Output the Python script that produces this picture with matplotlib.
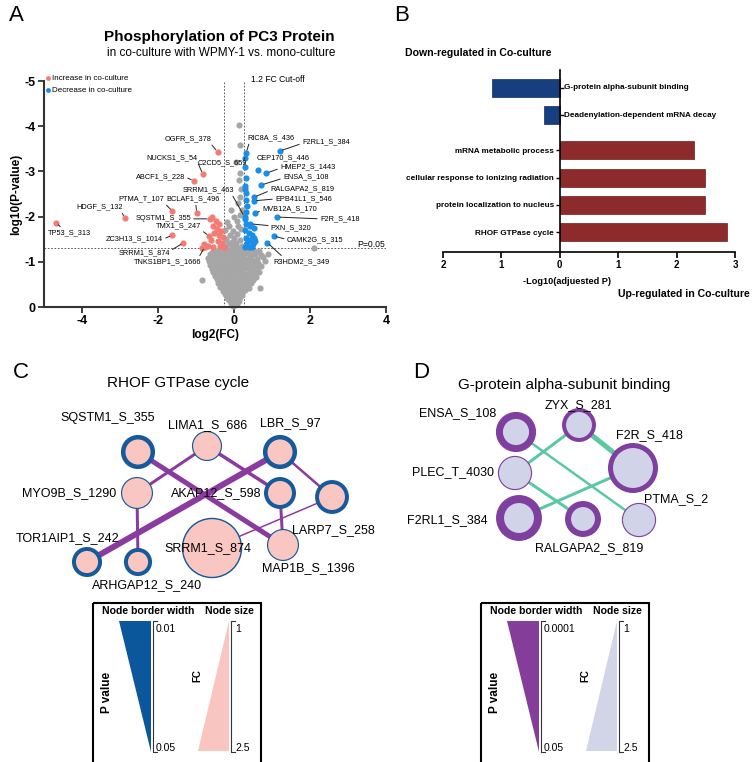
import matplotlib
matplotlib.use('Agg')
import matplotlib.pyplot as plt
from matplotlib.patches import Circle, Polygon, Rectangle
from matplotlib.lines import Line2D
import numpy as np

plt.rcParams['font.family'] = ['Liberation Sans', 'DejaVu Sans']
plt.rcParams['axes.unicode_minus'] = False

W, H = 752, 762

# ---------------- Panel A: volcano (log2 FC, log10 P) ----------------
gray_pts = [
    (-0.03, -0.03), (0.02, -0.05), (-0.08, -0.09), (0.01, -0.1), (0.07, -0.07),
    (-0.13, -0.15), (-0.05, -0.13), (0.04, -0.16), (0.12, -0.13),
    (-0.19, -0.21), (-0.1, -0.19), (0.0, -0.22), (0.09, -0.2), (0.17, -0.23),
    (-0.25, -0.28), (-0.15, -0.26), (-0.06, -0.29), (0.03, -0.27), (0.12, -0.3), (0.22, -0.26),
    (-0.3, -0.36), (-0.21, -0.33), (-0.1, -0.37), (0.0, -0.34), (0.1, -0.36), (0.2, -0.33), (0.29, -0.37),
    (-0.36, -0.44), (-0.25, -0.42), (-0.14, -0.45), (-0.04, -0.41), (0.06, -0.44), (0.16, -0.42),
    (0.27, -0.46), (0.4, -0.43), (0.69, -0.42),
    (-0.41, -0.52), (-0.3, -0.5), (-0.19, -0.54), (-0.09, -0.51), (0.01, -0.53), (0.11, -0.5),
    (0.21, -0.55), (0.32, -0.51), (0.46, -0.54),
    (-0.85, -0.6), (-0.45, -0.61), (-0.34, -0.58), (-0.24, -0.62), (-0.13, -0.59), (-0.03, -0.61),
    (0.07, -0.58), (0.17, -0.63), (0.27, -0.6), (0.38, -0.62), (0.5, -0.59),
    (-0.5, -0.69), (-0.39, -0.67), (-0.28, -0.7), (-0.18, -0.66), (-0.08, -0.69), (0.02, -0.71),
    (0.12, -0.67), (0.22, -0.7), (0.33, -0.68), (0.45, -0.71), (0.58, -0.67),
    (-0.55, -0.77), (-0.43, -0.75), (-0.32, -0.78), (-0.22, -0.74), (-0.12, -0.77), (-0.02, -0.75),
    (0.08, -0.79), (0.18, -0.76), (0.28, -0.74), (0.4, -0.78), (0.52, -0.75), (0.66, -0.77),
    (-0.58, -0.85), (-0.47, -0.83), (-0.36, -0.86), (-0.26, -0.82), (-0.16, -0.85), (-0.06, -0.87),
    (0.04, -0.83), (0.14, -0.86), (0.24, -0.84), (0.35, -0.87), (0.47, -0.83), (0.6, -0.85),
    (-0.62, -0.93), (-0.5, -0.91), (-0.4, -0.94), (-0.3, -0.9), (-0.2, -0.93), (-0.1, -0.95),
    (0.0, -0.91), (0.1, -0.94), (0.2, -0.92), (0.3, -0.95), (0.42, -0.91), (0.55, -0.93), (0.72, -0.9),
    (-0.65, -1.01), (-0.54, -0.99), (-0.43, -1.02), (-0.33, -0.98), (-0.23, -1.01), (-0.13, -1.03),
    (-0.03, -0.99), (0.07, -1.02), (0.17, -1.0), (0.27, -1.03), (0.38, -0.99), (0.5, -1.01),
    (0.64, -0.98), (0.82, -1.02),
    (-0.68, -1.09), (-0.57, -1.07), (-0.46, -1.1), (-0.36, -1.06), (-0.26, -1.09), (-0.16, -1.11),
    (-0.06, -1.07), (0.04, -1.1), (0.14, -1.08), (0.24, -1.11), (0.35, -1.07), (0.46, -1.09),
    (0.6, -1.06), (0.75, -1.1),
    (-0.62, -1.17), (-0.5, -1.15), (-0.4, -1.18), (-0.3, -1.14), (-0.2, -1.17), (-0.1, -1.19),
    (0.0, -1.15), (0.1, -1.18), (0.2, -1.16), (0.31, -1.19), (0.43, -1.15), (0.56, -1.17),
    (0.7, -1.14), (0.9, -1.18),
    (-0.55, -1.25), (-0.44, -1.23), (-0.33, -1.26), (-0.22, -1.22), (-0.12, -1.25), (-0.02, -1.27),
    (0.08, -1.23), (0.18, -1.26), (0.28, -1.24), (0.4, -1.27), (0.52, -1.23), (0.66, -1.25),
    (-0.2, -1.33), (-0.05, -1.35), (0.08, -1.32), (0.2, -1.34), (2.1, -1.31),
    (-0.15, -1.42), (-0.05, -1.44), (0.05, -1.41),
    (-0.2, -1.5), (0.0, -1.52), (0.15, -1.49),
    (-0.1, -1.6), (0.08, -1.62),
    (-0.24, -1.7), (-0.03, -1.68), (0.18, -1.72),
    (-0.12, -1.8), (0.1, -1.79),
    (-0.18, -1.88), (0.08, -1.9),
    (0.0, -2.0), (0.16, -2.03),
    (-0.08, -2.15), (0.2, -2.14),
    (0.11, -2.3), (0.16, -2.43), (0.18, -2.6), (0.12, -2.8), (0.16, -2.96), (0.05, -3.2),
    (0.16, -3.58), (0.13, -4.03),
]

red_other = [
    (-0.59, -1.99), (-0.48, -1.90), (-0.40, -1.84), (-0.56, -1.79), (-0.45, -1.73), (-0.35, -1.68),
    (-0.53, -1.64), (-0.40, -1.59), (-0.29, -1.55), (-0.61, -1.48), (-0.43, -1.46), (-0.32, -1.42),
    (-0.80, -1.39), (-0.69, -1.35), (-0.37, -1.35), (-0.27, -1.33), (-0.56, -1.33), (-0.85, -1.31),
]

blue_other = [
    (0.32, -2.85), (0.29, -2.68), (0.32, -2.52), (0.32, -2.37), (0.35, -2.23), (0.32, -2.10),
    (0.29, -1.95), (0.32, -1.84), (0.43, -1.79), (0.53, -1.75), (0.29, -1.70), (0.40, -1.64),
    (0.48, -1.59), (0.53, -1.53), (0.32, -1.53), (0.43, -1.48), (0.56, -1.46), (0.51, -1.39),
    (0.35, -1.42), (0.29, -1.33), (0.40, -1.33), (0.48, -1.33), (0.30, -3.10), (0.28, -2.60),
]

red_names = ['OGFR_S_378', 'NUCKS1_S_54', 'ABCF1_S_228', 'PTMA_T_107', 'BCLAF1_S_496',
             'HDGF_S_132', 'SQSTM1_S_355', 'TMX1_S_247', 'TP53_S_313', 'ZC3H13_S_1014',
             'SRRM1_S_874', 'TNKS1BP1_S_1666']
red_fc = [-0.43, -0.82, -1.06, -1.62, -0.98, -2.87, -0.64, -0.66, -4.68, -1.62, -1.33, -0.77]
red_logp = [-3.43, -2.94, -2.79, -2.12, -2.08, -1.97, -1.95, -1.57, -1.86, -1.59, -1.42, -1.33]

blue_names = ['RIC8A_S_436', 'C2CD5_S_659', 'F2RL1_S_384', 'CEP170_S_446', 'HMEP2_S_1443',
              'ENSA_S_108', 'RALGAPA2_S_819', 'EPB41L1_S_546', 'SRRM1_S_463', 'MVB12A_S_170',
              'F2R_S_418', 'PXN_S_320', 'CAMK2G_S_315', 'R3HDM2_S_349']
blue_fc = [0.32, 0.29, 1.20, 0.64, 0.85, 0.72, 0.53, 0.53, 0.28, 0.56, 1.14, 0.43, 1.04, 0.88]
blue_logp = [-3.41, -3.30, -3.45, -3.03, -2.96, -2.70, -2.43, -2.35, -1.99, -2.08, -1.99, -1.84, -1.57, -1.42]

# label layout: text position (data), horizontal alignment, leader start (relpos)
label_layout = {
    'OGFR_S_378': (-0.58, -3.72, 'right', (0.95, 0)),
    'NUCKS1_S_54': (-0.97, -3.30, 'right', (1, 0)),
    'ABCF1_S_228': (-1.29, -2.88, 'right', (1, 0.5)),
    'PTMA_T_107': (-2.45, -2.39, 'center', (1, 0)),
    'BCLAF1_S_496': (-1.08, -2.39, 'center', (0.55, 0)),
    'HDGF_S_132': (-3.53, -2.21, 'center', (0.95, 0)),
    'SQSTM1_S_355': (-1.13, -1.95, 'right', (1, 0.5)),
    'TMX1_S_247': (-1.47, -1.79, 'center', (1, 0)),
    'TP53_S_313': (-4.32, -1.64, 'center', (0.35, 1)),
    'ZC3H13_S_1014': (-1.87, -1.50, 'right', (1, 0.5)),
    'SRRM1_S_874': (-2.37, -1.19, 'center', (1, 0.8)),
    'TNKS1BP1_S_1666': (-1.74, -1.00, 'center', (0.95, 1)),
    'RIC8A_S_436': (0.97, -3.74, 'center', (0.05, 0)),
    'C2CD5_S_659': (-0.32, -3.19, 'center', (0.95, 1)),
    'F2RL1_S_384': (1.79, -3.65, 'left', (0, 0.3)),
    'CEP170_S_446': (1.29, -3.30, 'center', None),
    'HMEP2_S_1443': (1.21, -3.10, 'left', (0, 0.3)),
    'ENSA_S_108': (1.29, -2.88, 'left', (0, 0.3)),
    'RALGAPA2_S_819': (0.95, -2.61, 'left', (0, 0.3)),
    'EPB41L1_S_546': (1.08, -2.39, 'left', (0, 0.5)),
    'SRRM1_S_463': (-0.68, -2.59, 'center', (0.95, 0)),
    'MVB12A_S_170': (0.74, -2.17, 'left', (0, 0.3)),
    'F2R_S_418': (2.26, -1.95, 'left', (0, 0.5)),
    'PXN_S_320': (0.97, -1.75, 'left', (0, 0.8)),
    'CAMK2G_S_315': (1.39, -1.48, 'left', (0, 0.6)),
    'R3HDM2_S_349': (1.03, -1.00, 'left', (0.2, 1)),
}

fc_cutoff = 1.2
p_cutoff = 0.05

# ---------------- Panel B: enrichment ----------------
terms_down = ['G-protein alpha-subunit binding', 'Deadenylation-dependent mRNA decay']
scores_down = [1.16, 0.27]
terms_up = ['mRNA metabolic process', 'cellular response to ionizing radiation',
            'protein localization to nucleus', 'RHOF GTPase cycle']
scores_up = [2.30, 2.49, 2.49, 2.86]

# ---------------- Panel C / D: networks ----------------
c_nodes = ['SQSTM1_S_355', 'LIMA1_S_686', 'LBR_S_97', 'MYO9B_S_1290', 'AKAP12_S_598',
           'LARP7_S_258', 'SRRM1_S_874', 'MAP1B_S_1396', 'TOR1AIP1_S_242', 'ARHGAP12_S_240']
c_fc = [1.55, 1.53, 1.55, 1.59, 1.50, 1.56, 2.47, 1.59, 1.44, 1.38]
c_p = [0.010, 0.048, 0.010, 0.048, 0.016, 0.016, 0.045, 0.048, 0.016, 0.016]
c_edges = [('SQSTM1_S_355', 'MAP1B_S_1396'), ('LIMA1_S_686', 'MYO9B_S_1290'),
           ('LIMA1_S_686', 'AKAP12_S_598'), ('LBR_S_97', 'TOR1AIP1_S_242'),
           ('LBR_S_97', 'LARP7_S_258'), ('MYO9B_S_1290', 'ARHGAP12_S_240'),
           ('AKAP12_S_598', 'MAP1B_S_1396'), ('LARP7_S_258', 'SRRM1_S_874')]
c_edge_w = [5, 3, 3.5, 6, 2.5, 3, 3, 1.5]

d_nodes = ['ENSA_S_108', 'ZYX_S_281', 'F2R_S_418', 'PLEC_T_4030', 'F2RL1_S_384',
           'RALGAPA2_S_819', 'PTMA_S_2']
d_fc = [1.66, 1.56, 2.03, 1.66, 1.81, 1.56, 1.66]
d_p = [0.00047, 0.0049, 0.0022, 0.045, 0.00022, 0.001, 0.045]
d_edges = [('ENSA_S_108', 'PTMA_S_2'), ('ZYX_S_281', 'PLEC_T_4030'), ('ZYX_S_281', 'F2R_S_418'),
           ('PLEC_T_4030', 'RALGAPA2_S_819'), ('F2R_S_418', 'F2RL1_S_384')]
d_edge_w = [2.5, 3, 5, 3, 3]

# layouts (figure pixels)
c_pos = {'SQSTM1_S_355': (138, 452), 'LIMA1_S_686': (207, 446), 'LBR_S_97': (280, 452),
         'MYO9B_S_1290': (137, 493), 'AKAP12_S_598': (280, 493), 'LARP7_S_258': (332, 497),
         'SRRM1_S_874': (212, 548), 'MAP1B_S_1396': (283, 545), 'TOR1AIP1_S_242': (87, 562),
         'ARHGAP12_S_240': (138, 562)}
c_lab = {'SQSTM1_S_355': (108, 418), 'LIMA1_S_686': (208, 425), 'LBR_S_97': (290, 423),
         'MYO9B_S_1290': (69, 493), 'AKAP12_S_598': (216, 493), 'LARP7_S_258': (333, 530),
         'SRRM1_S_874': (208, 548), 'MAP1B_S_1396': (308, 568), 'TOR1AIP1_S_242': (68, 538),
         'ARHGAP12_S_240': (147, 585)}
d_pos = {'ENSA_S_108': (516, 432), 'ZYX_S_281': (579, 425), 'F2R_S_418': (633, 468),
         'PLEC_T_4030': (515, 473), 'F2RL1_S_384': (519, 518), 'RALGAPA2_S_819': (583, 519),
         'PTMA_S_2': (639, 520)}
d_lab = {'ENSA_S_108': (458, 413), 'ZYX_S_281': (578, 405), 'F2R_S_418': (649, 435),
         'PLEC_T_4030': (453, 472), 'F2RL1_S_384': (447, 520), 'RALGAPA2_S_819': (589, 548),
         'PTMA_S_2': (676, 499)}

GRAY = '#a6a6a6'
RED = '#f47b73'
BLUE = '#1b8fe8'
PT = 0.72  # points per pixel at dpi 100

fig = plt.figure(figsize=(W / 100, H / 100), dpi=100)
fig.patch.set_facecolor('white')

# overlay axes in pixel units for networks, legends and panel letters
axn = fig.add_axes([0, 0, 1, 1])
axn.set_xlim(0, W)
axn.set_ylim(H, 0)
axn.axis('off')

for letter, (lx, ly) in zip('ABCD', [(9, 21), (394, 21), (13, 378), (413, 378)]):
    axn.text(lx, ly, letter, fontsize=16, va='baseline', ha='left')

axn.text(219, 37, 'Phosphorylation of PC3 Protein', fontsize=11, fontweight='bold',
         ha='center', va='center')
axn.text(221, 53, 'in co-culture with WPMY-1 vs. mono-culture', fontsize=8.5,
         ha='center', va='center')

# ---- volcano ----
ax = fig.add_axes([44 / W, 1 - 307 / H, 342 / W, 226 / H])
ax.set_xlim(-5, 4)
ax.set_ylim(0, -5)
gx, gy = zip(*gray_pts)
ax.scatter(gx, gy, s=20, color=GRAY, lw=0, zorder=2, clip_on=False)
rx, ry = zip(*red_other)
ax.scatter(rx, ry, s=20, color=RED, lw=0, zorder=3)
bx, by = zip(*blue_other)
ax.scatter(bx, by, s=20, color=BLUE, lw=0, zorder=3)
ax.scatter(red_fc, red_logp, s=20, color=RED, lw=0, zorder=3)
ax.scatter(blue_fc, blue_logp, s=20, color=BLUE, lw=0, zorder=3)

lfc = np.log2(fc_cutoff)
for v in (-lfc, lfc):
    ax.axvline(v, color='#444444', lw=0.6, ls=(0, (2, 2)), zorder=1)
ax.axhline(np.log10(p_cutoff), color='#444444', lw=0.6, ls=(0, (2, 2)), zorder=1)
ax.text(0.45, -5.04, '1.2 FC Cut-off', fontsize=6.2, ha='left', va='center')
ax.text(3.24, -1.39, 'P=0.05', fontsize=6.2, ha='left', va='center', clip_on=False)

for names, xs, ys in ((red_names, red_fc, red_logp), (blue_names, blue_fc, blue_logp)):
    for n, x, y in zip(names, xs, ys):
        tx, ty, ha, rel = label_layout[n]
        props = None
        if rel is not None:
            props = dict(arrowstyle='-', color='#222222', lw=0.7, relpos=rel,
                         shrinkA=0, shrinkB=2)
        ax.annotate(n, xy=(x, y), xytext=(tx, ty), fontsize=5.3, ha=ha, va='center',
                    arrowprops=props, zorder=4)

for s in ('top', 'right'):
    ax.spines[s].set_visible(False)
for s in ('left', 'bottom'):
    ax.spines[s].set_linewidth(1.5)
    ax.spines[s].set_color('#333333')
ax.set_xticks([-4, -2, 0, 2, 4])
ax.set_yticks([-5, -4, -3, -2, -1, 0])
ax.tick_params(length=4, width=1.3, color='#333333', labelsize=9, pad=2)
for t in ax.get_xticklabels() + ax.get_yticklabels():
    t.set_fontweight('bold')
ax.set_xlabel('log2(FC)', fontsize=8.5, fontweight='bold', labelpad=1)
ax.set_ylabel('log10(P-value)', fontsize=8.5, fontweight='bold', labelpad=2)

handles = [Line2D([], [], marker='o', ls='', color=RED, ms=3.5, mew=0),
           Line2D([], [], marker='o', ls='', color=BLUE, ms=3.5, mew=0)]
ax.legend(handles, ['Increase in co-culture', 'Decrease in co-culture'], loc='upper left',
          bbox_to_anchor=(0.0, 1.035), frameon=False, fontsize=5.8, handlelength=0.6,
          handletextpad=0.2, labelspacing=0.55, borderaxespad=0, borderpad=0.2)

# ---- enrichment bars ----
axb = fig.add_axes([443 / W, 1 - 252 / H, 292 / W, 182 / H])
pos_down = [0, 1]
pos_up = [2.27, 3.27, 4.25, 5.25]
axb.barh(pos_down, [-v for v in scores_down], height=0.66, color='#163f7f',
         edgecolor='#0f2f66', lw=0.5)
axb.barh(pos_up, scores_up, height=0.66, color='#8c2a2c', edgecolor='#6e1c1f', lw=0.5)
axb.set_xlim(-2, 3)
axb.set_ylim(5.97, -0.65)
axb.spines['left'].set_position(('data', 0))
for s in ('top', 'right'):
    axb.spines[s].set_visible(False)
for s in ('left', 'bottom'):
    axb.spines[s].set_linewidth(1.2)
axb.set_yticks(pos_up)
axb.set_yticklabels(terms_up, fontsize=5.9, fontweight='bold')
axb.tick_params(axis='y', length=3, width=1, pad=1)
for p, t in zip(pos_down, terms_down):
    axb.plot(0, p, marker=1, ms=3, mew=1, color='k', clip_on=False)
    axb.annotate(t, xy=(0, p), xytext=(3, 0), textcoords='offset points', fontsize=5.9,
                 fontweight='bold', ha='left', va='center')
axb.set_xticks([-2, -1, 0, 1, 2, 3])
axb.set_xticklabels(['2', '1', '0', '1', '2', '3'], fontsize=7, fontweight='bold')
axb.tick_params(axis='x', length=4, width=1.2, pad=2)
axb.set_xlabel('-Log10(adjuested P)', fontsize=6.6, fontweight='bold')
axb.xaxis.set_label_coords(0.425, -0.135)
axn.text(478, 53, 'Down-regulated in Co-culture', fontsize=7.6, fontweight='bold',
         ha='center', va='center')
axn.text(750, 294, 'Up-regulated in Co-culture', fontsize=7.6, fontweight='bold',
         ha='right', va='center')


# ---- networks ----
def radius(fc):
    return 6 + 16 * (fc - 1)


def draw_network(nodes, fcs, border_w, edges, edge_w, pos, lab, fill, edge_col, line_col):
    for (a, b), w in zip(edges, edge_w):
        (x1, y1), (x2, y2) = pos[a], pos[b]
        axn.plot([x1, x2], [y1, y2], color=line_col, lw=w * PT, solid_capstyle='butt', zorder=1)
    for n, fc, bw in zip(nodes, fcs, border_w):
        axn.add_patch(Circle(pos[n], radius(fc), facecolor=fill, edgecolor=edge_col,
                             lw=bw * PT, zorder=2))
        axn.text(*lab[n], n, fontsize=9, ha='center', va='center', zorder=5)


c_bw = [1 + 3.5 * (0.05 - p) / 0.04 for p in c_p]
d_bw = [1 + 8 * (-np.log10(p) + np.log10(0.05)) / (4 + np.log10(0.05)) for p in d_p]

axn.text(178, 383, 'RHOF GTPase cycle', fontsize=11, ha='center', va='center')
draw_network(c_nodes, c_fc, c_bw, c_edges, c_edge_w, c_pos, c_lab,
             '#f9c6c1', '#175a9c', '#8b3b9f')
axn.text(564, 385, 'G-protein alpha-subunit binding', fontsize=11, ha='center', va='center')
draw_network(d_nodes, d_fc, d_bw, d_edges, d_edge_w, d_pos, d_lab,
             '#d1d3e8', '#7f3f9e', '#5bc8a5')


# ---- network legends ----
def draw_key(x0, p_top, p_bot, wedge_col, size_col):
    axn.add_patch(Rectangle((x0, 603), 168, 180, fill=False, lw=1.5, edgecolor='k',
                            clip_on=False))
    axn.text(x0 + 55, 611, 'Node border width', fontsize=7.6, fontweight='bold',
             ha='center', va='center')
    axn.text(x0 + 136, 611, 'Node size', fontsize=7.6, fontweight='bold',
             ha='center', va='center')
    axn.add_patch(Polygon([(x0 + 26, 621), (x0 + 58, 621), (x0 + 58, 752)],
                          closed=True, color=wedge_col, lw=0))
    axn.add_patch(Polygon([(x0 + 105, 751), (x0 + 136, 751), (x0 + 136, 621)],
                          closed=True, color=size_col, lw=0))
    for bx_ in (x0 + 60, x0 + 138):
        axn.plot([bx_ + 4, bx_, bx_, bx_ + 4], [621, 621, 752, 752], color='#333333', lw=0.8)
    axn.text(x0 + 63, 629, p_top, fontsize=7.5, ha='left', va='center')
    axn.text(x0 + 63, 748, p_bot, fontsize=7.5, ha='left', va='center')
    axn.text(x0 + 142, 629, '1', fontsize=7.5, ha='left', va='center')
    axn.text(x0 + 142, 748, '2.5', fontsize=7.5, ha='left', va='center')
    axn.text(x0 + 14, 692, 'P value', fontsize=8.5, fontweight='bold', rotation=90,
             ha='center', va='center')
    axn.text(x0 + 104, 676, 'FC', fontsize=7, fontweight='bold', rotation=90,
             ha='center', va='center')


draw_key(93, '0.01', '0.05', '#0b579c', '#f9c5c0')
draw_key(481, '0.0001', '0.05', '#843e9a', '#d2d4e8')

fig.savefig('out.png', dpi=100, facecolor='white')
